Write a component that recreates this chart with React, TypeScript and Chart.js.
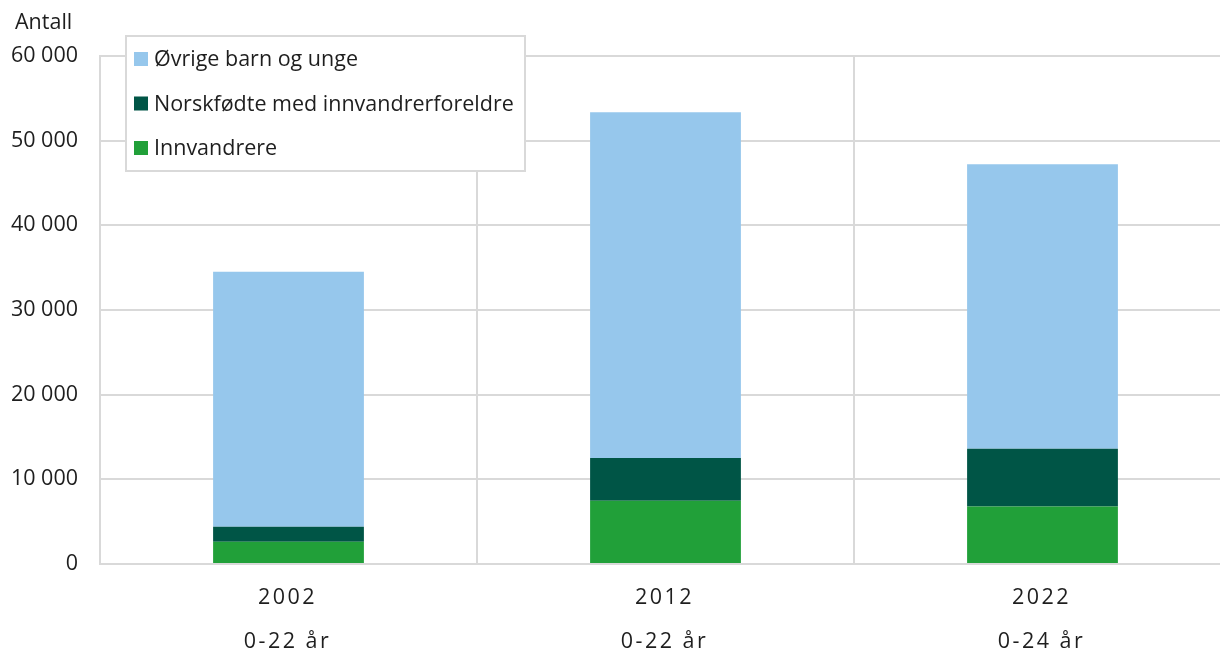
import React, { useEffect, useRef } from "react";
import { Chart, registerables } from "chart.js";

Chart.register(...registerables);

const years = ["2002", "2012", "2022"];
const ageGroups = ["0-22 år", "0-22 år", "0-24 år"];
const innvandrere = [2640, 7460, 6780];
const norskfodte = [1770, 5050, 6830];
const ovrige = [30110, 40860, 33610];
const yTicks = [0, 10000, 20000, 30000, 40000, 50000, 60000];
const yTitle = "Antall";

const FONT = "'Open Sans', sans-serif";
const FS = 21.5;
const TEXT = "#1e1e1e";
const GRID = "#d9d9d9";

const fmt = (v: number) => String(v).replace(/\B(?=(\d{3})+(?!\d))/g, " ");

const customPlugin = {
  id: "custom",
  afterDraw(chart: any) {
    const ctx = chart.ctx as CanvasRenderingContext2D;
    const xs = chart.scales.x;
    ctx.save();
    // y-axis title
    ctx.font = `${FS}px ${FONT}`;
    ctx.fillStyle = TEXT;
    ctx.textAlign = "left";
    ctx.textBaseline = "middle";
    ctx.fillText(yTitle, 15, 23);

    // x labels with letter spacing
    ctx.textAlign = "center";
    (ctx as any).letterSpacing = "2.5px";
    years.forEach((y, i) => {
      const px = xs.getPixelForValue(i) - 1;
      ctx.fillText(y, px, 598);
      ctx.fillText(ageGroups[i], px, 642);
    });
    (ctx as any).letterSpacing = "0px";

    // legend box
    const bx = 126, by = 36, bw = 399, bh = 135;
    ctx.fillStyle = "#ffffff";
    ctx.fillRect(bx, by, bw, bh);
    ctx.strokeStyle = GRID;
    ctx.lineWidth = 2;
    ctx.strokeRect(bx, by, bw, bh);
    const items = [...chart.data.datasets].reverse();
    items.forEach((ds: any, i: number) => {
      const cy = 59 + i * 44.5;
      ctx.fillStyle = ds.backgroundColor;
      ctx.fillRect(134, cy - 7, 14, 14);
      ctx.fillStyle = TEXT;
      ctx.textAlign = "left";
      ctx.textBaseline = "middle";
      ctx.font = `${FS}px ${FONT}`;
      ctx.fillText(ds.label, 154, cy + 1);
    });
    ctx.restore();
  },
};

export default function App() {
  const ref = useRef<HTMLCanvasElement>(null);
  useEffect(() => {
    if (!ref.current) return;
    const chart = new Chart(ref.current, {
      type: "bar",
      data: {
        labels: years,
        datasets: [
          { label: "Innvandrere", data: innvandrere, backgroundColor: "#21a039" },
          { label: "Norskfødte med innvandrerforeldre", data: norskfodte, backgroundColor: "#005546" },
          { label: "Øvrige barn og unge", data: ovrige, backgroundColor: "#96c7ec" },
        ],
      },
      options: {
        animation: false,
        responsive: false,
        devicePixelRatio: 1,
        layout: { padding: { top: 56, right: 2, bottom: 87, left: 0 } },
        datasets: { bar: { barPercentage: 0.4, categoryPercentage: 1 } },
        plugins: { legend: { display: false }, tooltip: { enabled: false }, title: { display: false } },
        scales: {
          x: {
            stacked: true,
            ticks: { display: false },
            grid: { color: GRID, lineWidth: 2, drawTicks: false, offset: true },
            border: { color: GRID, width: 2 },
          },
          y: {
            stacked: true,
            min: 0,
            max: 60000,
            afterBuildTicks: (scale: any) => {
              scale.ticks = yTicks.map((v) => ({ value: v }));
            },
            afterFit: (scale: any) => {
              scale.width = 100;
            },
            ticks: {
              color: TEXT,
              font: { family: FONT, size: FS },
              padding: 22,
              callback: (v: any) => fmt(Number(v)),
            },
            grid: { color: GRID, lineWidth: 2, drawTicks: false },
            border: { color: GRID, width: 2 },
          },
        },
      },
      plugins: [customPlugin],
    });
    return () => chart.destroy();
  }, []);
  return (
    <div style={{ position: "fixed", left: 0, top: 0, width: 1220, height: 651, overflow: "hidden", background: "#fff" }}>
      <canvas ref={ref} width={1233} height={651} style={{ display: "block", width: 1233, height: 651 }} />
    </div>
  );
}
